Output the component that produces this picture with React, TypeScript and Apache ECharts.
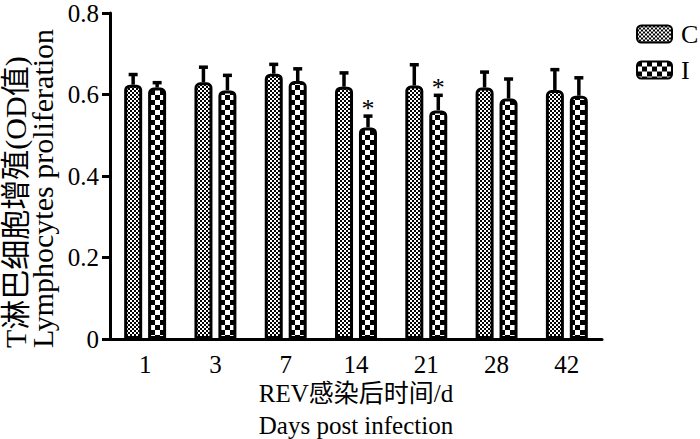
import React, { useEffect, useRef } from "react";
import * as echarts from "echarts";

const categories = ["1", "3", "7", "14", "21", "28", "42"];
const seriesNames = ["C", "I"];
const valuesC = [0.624, 0.630, 0.651, 0.619, 0.622, 0.617, 0.611];
const errorsC = [0.025, 0.037, 0.023, 0.034, 0.051, 0.038, 0.050];
const valuesI = [0.617, 0.610, 0.633, 0.519, 0.561, 0.590, 0.597];
const errorsI = [0.012, 0.037, 0.030, 0.028, 0.037, 0.048, 0.044];
const marksC = ["", "", "", "", "", "", ""];
const marksI = ["", "", "", "*", "*", "", ""];
const yTitle = "T淋巴细胞增殖(OD值)\nLymphocytes proliferation";
const xTitle = "REV感染后时间/d\nDays post infection";

const FONT = "'Liberation Serif', 'Times New Roman', 'Noto Sans CJK SC', serif";

function makeChecker(cell: number) {
  const c = document.createElement("canvas");
  c.width = cell * 2;
  c.height = cell * 2;
  const ctx = c.getContext("2d")!;
  ctx.fillStyle = "#ffffff";
  ctx.fillRect(0, 0, cell * 2, cell * 2);
  ctx.fillStyle = "#000000";
  ctx.fillRect(0, 0, cell, cell);
  ctx.fillRect(cell, cell, cell, cell);
  return {
    image: c,
    repeat: "repeat",
    imageWidth: cell * 2,
    imageHeight: cell * 2,
  } as any;
}

export default function App() {
  const ref = useRef<HTMLDivElement>(null);
  useEffect(() => {
    document.body.style.margin = "0";
    if (!ref.current) return;
    const chart = echarts.init(ref.current, null, { renderer: "svg" });
    const patC = makeChecker(2);
    const patI = makeChecker(5);

    const errSeries = (vals: number[], errs: number[], marks: string[], off: number) => ({
      type: "custom",
      z: 5,
      silent: true,
      data: categories.map((_, i) => [i, vals[i], errs[i]]),
      encode: { x: 0, y: 1 },
      renderItem: (params: any, api: any) => {
        const i = api.value(0);
        const v = api.value(1);
        const e = api.value(2);
        const base = api.coord([i, v]);
        const top = api.coord([i, v + e]);
        const cx = base[0] + off;
        const children: any[] = [
          {
            type: "line",
            shape: { x1: cx, y1: base[1], x2: cx, y2: top[1] },
            style: { stroke: "#000", lineWidth: 3.5 },
          },
          {
            type: "line",
            shape: { x1: cx - 4.5, y1: top[1], x2: cx + 4.5, y2: top[1] },
            style: { stroke: "#000", lineWidth: 3.5 },
          },
        ];
        const m = marks[params.dataIndex];
        if (m) {
          children.push({
            type: "text",
            x: cx,
            y: top[1] - 8,
            style: {
              text: m,
              font: `26px ${FONT}`,
              fill: "#000",
              align: "center",
              verticalAlign: "middle",
            },
          });
        }
        return { type: "group", children };
      },
    });

    const legendText = { color: "#000", fontFamily: FONT, fontSize: 26, lineHeight: 26 };

    chart.setOption({
      animation: false,
      grid: {
        left: 110,
        right: 98,
        top: 13,
        bottom: 100,
        containLabel: false,
        outerBoundsMode: "none",
      },
      legend: {
        orient: "vertical",
        left: 636,
        top: 21,
        padding: 0,
        itemWidth: 35,
        itemHeight: 17,
        itemGap: 10,
        icon: "roundRect",
        textStyle: { ...legendText, padding: [0, 0, 0, 4] },
        data: seriesNames.map((n) => ({ name: n, textStyle: legendText })),
      },
      xAxis: {
        type: "category",
        data: categories,
        boundaryGap: true,
        axisLine: { lineStyle: { color: "#000", width: 3 } },
        axisTick: { alignWithLabel: true, length: 8, lineStyle: { color: "#000", width: 2.5 } },
        axisLabel: { color: "#000", fontFamily: FONT, fontSize: 25, margin: 13 },
        name: xTitle,
        nameLocation: "middle",
        nameGap: 38,
        nameMoveOverlap: false,
        nameTextStyle: { color: "#000", fontFamily: FONT, fontSize: 25, lineHeight: 32 },
      },
      yAxis: {
        type: "value",
        min: 0,
        max: 0.8,
        interval: 0.2,
        splitLine: { show: false },
        axisLine: { show: true, lineStyle: { color: "#000", width: 3 } },
        axisTick: { show: true, length: 8, lineStyle: { color: "#000", width: 3 } },
        axisLabel: { color: "#000", fontFamily: FONT, fontSize: 25, lineHeight: 22, margin: 11 },
      },
      graphic: [
        {
          type: "text",
          x: 29,
          y: 348,
          rotation: Math.PI / 2,
          style: {
            text: yTitle,
            font: `30px ${FONT}`,
            lineHeight: 27,
            fill: "#000",
            align: "left",
            verticalAlign: "middle",
          },
        },
      ],
      series: [
        {
          name: "C",
          type: "bar",
          data: valuesC,
          barWidth: 18,
          barGap: "33%",
          itemStyle: {
            color: patC,
            borderColor: "#000",
            borderWidth: 3,
            borderRadius: [4, 4, 0, 0],
          },
        },
        {
          name: "I",
          type: "bar",
          data: valuesI,
          barWidth: 18,
          barGap: "33%",
          itemStyle: {
            color: patI,
            borderColor: "#000",
            borderWidth: 3,
            borderRadius: [4, 4, 0, 0],
          },
        },
        errSeries(valuesC, errorsC, marksC, -12),
        errSeries(valuesI, errorsI, marksI, 12),
      ],
    });
    return () => chart.dispose();
  }, []);
  return <div ref={ref} style={{ width: 700, height: 439 }} />;
}
